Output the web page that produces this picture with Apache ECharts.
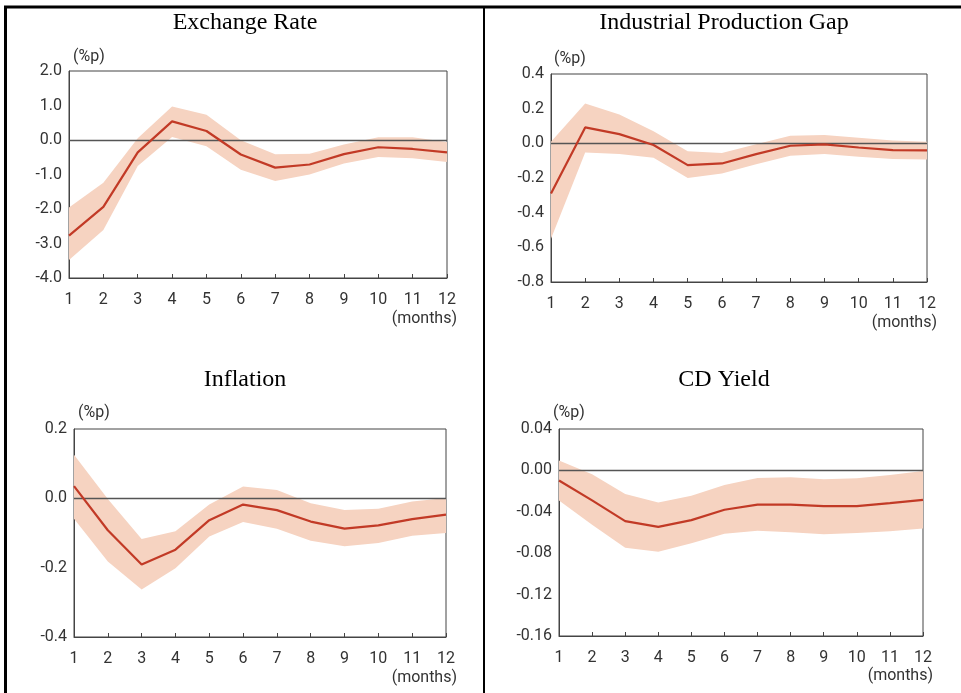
<!DOCTYPE html>
<html>
<head>
<meta charset="utf-8">
<script src="https://cdn.jsdelivr.net/npm/echarts@6/dist/echarts.min.js"></script>
<style>
html,body{margin:0;padding:0;background:#fff;}
#c{width:961px;height:693px;}
</style>
</head>
<body>
<div id="c"></div>
<script>
var months = ['1','2','3','4','5','6','7','8','9','10','11','12'];

var titles = ['Exchange Rate', 'Industrial Production Gap', 'Inflation', 'CD Yield'];

// Exchange Rate
var erMid   = [-2.77, -1.94, -0.36, 0.54, 0.26, -0.42, -0.80, -0.71, -0.41, -0.21, -0.26, -0.36];
var erUpper = [-1.96, -1.24, 0.05, 0.97, 0.73, -0.01, -0.41, -0.40, -0.13, 0.08, 0.08, -0.06];
var erLower = [-3.48, -2.61, -0.75, 0.09, -0.18, -0.86, -1.19, -1.00, -0.68, -0.49, -0.53, -0.64];

// Industrial Production Gap
var ipMid   = [-0.29, 0.092, 0.053, -0.01, -0.126, -0.116, -0.062, -0.014, -0.006, -0.024, -0.039, -0.041];
var ipUpper = [0.009, 0.23, 0.167, 0.07, -0.045, -0.056, -0.006, 0.044, 0.048, 0.032, 0.017, 0.009];
var ipLower = [-0.55, -0.053, -0.062, -0.083, -0.20, -0.174, -0.12, -0.072, -0.062, -0.078, -0.091, -0.093];

// Inflation
var infMid   = [0.035, -0.092, -0.191, -0.148, -0.063, -0.018, -0.034, -0.067, -0.0875, -0.078, -0.06, -0.047];
var infUpper = [0.126, -0.002, -0.117, -0.095, -0.018, 0.034, 0.024, -0.014, -0.034, -0.03, -0.009, 0.001];
var infLower = [-0.059, -0.182, -0.263, -0.202, -0.11, -0.068, -0.0875, -0.122, -0.138, -0.129, -0.108, -0.10];

// CD Yield
var cdMid   = [-0.0098, -0.029, -0.049, -0.0545, -0.048, -0.038, -0.033, -0.033, -0.0346, -0.0346, -0.0317, -0.0285];
var cdUpper = [0.0095, -0.0037, -0.0227, -0.031, -0.0246, -0.014, -0.0073, -0.0066, -0.0085, -0.0076, -0.0044, -0.0005];
var cdLower = [-0.029, -0.0526, -0.0748, -0.0787, -0.0703, -0.0613, -0.0584, -0.0597, -0.0616, -0.0606, -0.0587, -0.0561];

var yMin = [-4, -0.8, -0.4, -0.16];
var yMax = [2, 0.4, 0.2, 0.04];
var yStep = [1, 0.2, 0.2, 0.04];
var yDec = [1, 1, 1, 2];

var mids = [erMid, ipMid, infMid, cdMid];
var uppers = [erUpper, ipUpper, infUpper, cdUpper];
var lowers = [erLower, ipLower, infLower, cdLower];

var grids = [
  {left: 69, top: 71, width: 378, height: 207},
  {left: 551, top: 74, width: 376, height: 208},
  {left: 74, top: 429, width: 372, height: 208},
  {left: 559, top: 429, width: 364, height: 207}
];
var titlePos = [[245, 23], [724, 23], [245, 380], [724, 380]];
var unitPos = [[73, 57], [554, 59], [78, 413], [553, 413]];
var monthsPos = [[457, 319], [937, 323], [457, 678], [933, 676]];

var LINE = '#c23a26', BAND = '#f6d3c1', TXT = '#333';
var labelFont = 'Roboto, "DejaVu Sans", sans-serif';

var option = {
  animation: false,
  backgroundColor: '#fff',
  grid: [], xAxis: [], yAxis: [], series: [], graphic: []
};

for (var i = 0; i < 4; i++) {
  var g = grids[i];
  option.grid.push({left: g.left, top: g.top, width: g.width, height: g.height,
    show: true, borderColor: '#444', borderWidth: 1, containLabel: false});
  option.xAxis.push({
    type: 'category', gridIndex: i, data: months, boundaryGap: false,
    axisLine: {show: true, onZero: false, lineStyle: {color: '#444', width: 1}},
    axisTick: {show: true, inside: true, length: 4, lineStyle: {color: '#444'}},
    axisLabel: {color: TXT, fontFamily: labelFont, fontSize: 16, margin: 14, interval: 0},
    splitLine: {show: false}
  });
  (function (dec) {
    option.yAxis.push({
      type: 'value', gridIndex: i, min: yMin[i], max: yMax[i], interval: yStep[i],
      axisLine: {show: true, lineStyle: {color: '#444', width: 1}},
      axisTick: {show: false},
      axisLabel: {color: TXT, fontFamily: labelFont, fontSize: 16, margin: 7,
        formatter: function (v) { return v.toFixed(dec); }},
      splitLine: {show: false}
    });
  })(yDec[i]);

  var diff = uppers[i].map(function (u, k) { return +(u - lowers[i][k]).toFixed(5); });
  var stackName = 'band' + i;
  option.series.push({
    type: 'line', xAxisIndex: i, yAxisIndex: i, data: lowers[i],
    stack: stackName, stackStrategy: 'all', symbol: 'none',
    lineStyle: {opacity: 0}, silent: true, z: 1
  });
  option.series.push({
    type: 'line', xAxisIndex: i, yAxisIndex: i, data: diff,
    stack: stackName, stackStrategy: 'all', symbol: 'none',
    lineStyle: {opacity: 0}, areaStyle: {color: BAND, opacity: 1}, silent: true, z: 1
  });
  option.series.push({
    type: 'line', xAxisIndex: i, yAxisIndex: i, data: mids[i],
    symbol: 'none', lineStyle: {color: LINE, width: 2.2}, z: 3,
    markLine: {
      silent: true, symbol: 'none', label: {show: false},
      lineStyle: {color: '#555', width: 1.3, type: 'solid'},
      data: [{yAxis: 0}], z: 2
    }
  });
}

for (var j = 0; j < 4; j++) {
  option.graphic.push({
    type: 'text', x: titlePos[j][0], y: titlePos[j][1],
    style: {text: titles[j], fill: '#000', font: '24px "Liberation Serif", "Times New Roman", serif',
      align: 'center', verticalAlign: 'middle'}
  });
  option.graphic.push({
    type: 'text', x: unitPos[j][0], y: unitPos[j][1],
    style: {text: '(%p)', fill: TXT, font: '16px ' + labelFont, align: 'left', verticalAlign: 'middle'}
  });
  option.graphic.push({
    type: 'text', x: monthsPos[j][0], y: monthsPos[j][1],
    style: {text: '(months)', fill: TXT, font: '16px ' + labelFont, align: 'right', verticalAlign: 'middle'}
  });
}
// Frame lines
option.graphic.push({type: 'line', shape: {x1: 4, y1: 7, x2: 961, y2: 7}, style: {stroke: '#000', lineWidth: 3}});
option.graphic.push({type: 'line', shape: {x1: 5.5, y1: 6, x2: 5.5, y2: 693}, style: {stroke: '#000', lineWidth: 3}});
option.graphic.push({type: 'line', shape: {x1: 484, y1: 6, x2: 484, y2: 693}, style: {stroke: '#000', lineWidth: 2}});

var chart = echarts.init(document.getElementById('c'), null, {renderer: 'canvas'});
chart.setOption(option);
</script>
</body>
</html>
